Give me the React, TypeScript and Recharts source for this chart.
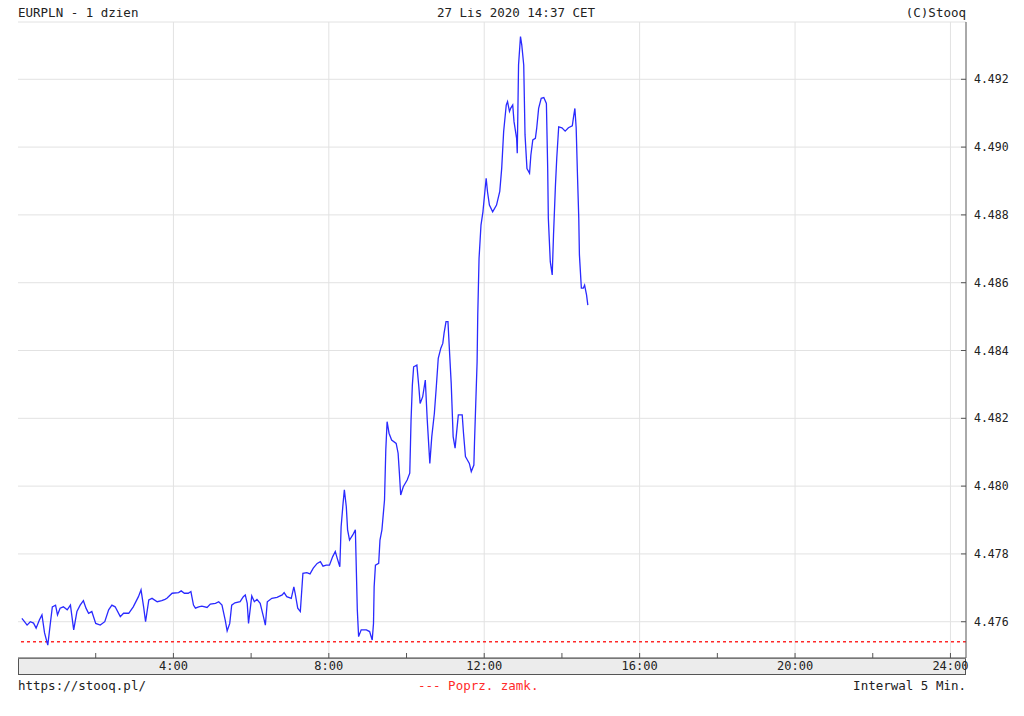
import { LineChart, Line, XAxis, YAxis, CartesianGrid, ReferenceLine } from "recharts";

// minutes since midnight (5-min bars, EURPLN 27.11.2020)
const minutes = [
  6, 10, 14, 19, 24, 28, 33, 37, 41, 46, 50, 53, 58, 61, 65, 70, 76, 81, 86, 91,
  96, 101, 105, 109, 114, 120, 127, 134, 140, 145, 150, 158, 163, 171, 178, 186, 190, 194, 197, 202,
  207, 215, 222, 227, 230, 238, 248, 252, 257, 263, 267, 271, 274, 279, 284, 292, 297, 305, 310, 315,
  320, 323, 327, 330, 335, 343, 348, 351, 354, 356, 359, 361, 365, 369, 374, 379, 382, 385, 392, 400,
  408, 411, 415, 422, 426, 428, 432, 436, 440, 446, 451, 456, 462, 467, 471, 476, 481, 486, 490, 493,
  497, 499, 502, 504, 507, 509, 512, 517, 521, 522, 524, 526, 530, 538, 543, 547, 549, 550, 552, 557,
  559, 562, 566, 568, 570, 573, 577, 584, 587, 589, 591, 595, 601, 605, 607, 609, 611, 616, 619, 621,
  625, 629, 632, 636, 639, 643, 646, 649, 653, 656, 658, 661, 664, 666, 669, 672, 675, 678, 680, 686,
  688, 691, 694, 697, 700, 704, 705, 707, 709, 710, 712, 715, 718, 721, 723, 725, 728, 733, 739, 744,
  747, 750, 754, 756, 759, 761, 764, 766, 770, 771, 773, 776, 778, 781, 783, 786, 790, 792, 795, 799,
  801, 804, 808, 812, 816, 818, 819, 822, 825, 827, 830, 832, 835, 840, 845, 850, 856, 858, 860, 862,
  864, 866, 867, 870, 873, 875, 878, 880,
];

const prices = [
  4.4761, 4.476, 4.4759, 4.476, 4.47596, 4.47581, 4.47605, 4.4762, 4.47567, 4.47531,
  4.47596, 4.47644, 4.47649, 4.4762, 4.4764, 4.47644, 4.47635, 4.47649, 4.47576, 4.4763,
  4.47649, 4.47662, 4.4764, 4.47625, 4.4763, 4.47595, 4.4759, 4.476, 4.47635, 4.47649,
  4.47644, 4.47615, 4.47625, 4.47625, 4.47644, 4.47674, 4.47694, 4.47644, 4.476, 4.47664,
  4.47669, 4.47659, 4.47662, 4.47666, 4.47669, 4.47684, 4.47686, 4.47691, 4.47684, 4.47684,
  4.47689, 4.47649, 4.4764, 4.47644, 4.47646, 4.47642, 4.47652, 4.47654, 4.47659, 4.47649,
  4.47605, 4.47573, 4.47595, 4.47649, 4.47656, 4.47659, 4.47674, 4.47679, 4.47654, 4.47595,
  4.47644, 4.47676, 4.47659, 4.47666, 4.47654, 4.47615, 4.4759, 4.47659, 4.47669, 4.47672,
  4.47679, 4.47686, 4.47674, 4.47669, 4.47703, 4.47684, 4.4764, 4.4763, 4.47743, 4.47745,
  4.47741, 4.47758, 4.47772, 4.47777, 4.47764, 4.47767, 4.47767, 4.47792, 4.47807, 4.47787,
  4.47762, 4.4788, 4.47949, 4.47989, 4.47939, 4.47871, 4.47841, 4.47856, 4.47871, 4.47792,
  4.47635, 4.47556, 4.47576, 4.47576, 4.47571, 4.47546, 4.47595, 4.47703, 4.47767, 4.47772,
  4.47841, 4.47871, 4.47959, 4.48107, 4.4819, 4.48156, 4.48136, 4.48126, 4.48097, 4.48038,
  4.47974, 4.47998, 4.48018, 4.48038, 4.48195, 4.48298, 4.48352, 4.48357, 4.48293, 4.48244,
  4.48264, 4.48313, 4.48195, 4.48067, 4.48146, 4.48215, 4.48293, 4.48377, 4.48407, 4.48421,
  4.48451, 4.48485, 4.48485, 4.48411, 4.48303, 4.48146, 4.48112, 4.48171, 4.4821, 4.4821,
  4.48156, 4.48087, 4.48077, 4.48067, 4.48043, 4.48062, 4.48131, 4.48249, 4.48367, 4.48505,
  4.48672, 4.4877, 4.48809, 4.48869, 4.48908, 4.48869, 4.48829, 4.48809, 4.48829, 4.48869,
  4.48938, 4.49046, 4.49124, 4.49134, 4.49105, 4.49115, 4.49124, 4.49075, 4.49026, 4.48982,
  4.49242, 4.49326, 4.49301, 4.49242, 4.49036, 4.48937, 4.48923, 4.48976, 4.49021, 4.49026,
  4.49055, 4.49114, 4.49144, 4.49146, 4.49129, 4.48937, 4.4879, 4.48662, 4.48623, 4.48741,
  4.48888, 4.48967, 4.4906, 4.49057, 4.49047, 4.49057, 4.49063, 4.4909, 4.49114, 4.49056,
  4.48918, 4.4879, 4.48682, 4.48584, 4.48584, 4.48593, 4.48564, 4.48534,
];

const prevClose = 4.47541;
const priceTicks = [4.476, 4.478, 4.48, 4.482, 4.484, 4.486, 4.488, 4.49, 4.492];
const hourTicks = [120, 240, 360, 480, 600, 720, 840, 960, 1080, 1200, 1320, 1440];
const gridHours = [240, 480, 720, 960, 1200, 1440];
const xDomain = [0, 1464];
const yDomain = [4.47493, 4.49369];

const title = "EURPLN - 1 dzien";
const stamp = "27 Lis 2020 14:37 CET";
const copy = "(C)Stooq";
const source = "https://stooq.pl/";
const legendLabel = "--- Poprz. zamk.";
const interval = "Interwal 5 Min.";

const data = minutes.map((m, i) => ({ m, price: prices[i] }));

const FONT = '"DejaVu Sans Mono", "Liberation Mono", monospace';
const AXIS = "#555";
const TEXT = "#222";

function HourTick(props: any) {
  const { x, y, payload } = props;
  const m = payload.value as number;
  return (
    <g>
      <line x1={x} x2={x} y1={y - 5} y2={y} stroke={AXIS} />
      {m % 240 === 0 && (
        <text x={x} y={y + 12} textAnchor="middle" fontSize={12} fontFamily={FONT} fill={TEXT}>
          {`${m / 60}:00`}
        </text>
      )}
    </g>
  );
}

function PriceTick(props: any) {
  const { x, y, payload } = props;
  return (
    <g>
      <line x1={x - 5} x2={x} y1={y} y2={y} stroke={AXIS} />
      <text x={x + 8} y={y + 4} fontSize={11.5} fontFamily={FONT} fill={TEXT}>
        {(payload.value as number).toFixed(3)}
      </text>
    </g>
  );
}

const noLabel = () => <g />;

function Label({ left, right, top, color, children }: any) {
  return (
    <div
      style={{
        position: "absolute", left, right, top, height: 16, lineHeight: "16px",
        fontFamily: FONT, fontSize: 12.5, color: color ?? TEXT, whiteSpace: "pre", zIndex: 2,
      }}
    >
      {children}
    </div>
  );
}

export default function App() {
  return (
    <div style={{ position: "relative", width: 1008, height: 700 }}>
      {/* gray strip under the time axis */}
      <div
        style={{
          position: "absolute", left: 10, top: 650, width: 948, height: 17,
          background: "#ececec", border: `1px solid ${AXIS}`, boxSizing: "border-box",
        }}
      />
      <div style={{ position: "absolute", left: 0, top: 0 }}>
        <LineChart width={1008} height={690} data={data} margin={{ top: 14, right: 5, left: 10, bottom: 24 }}>
          <CartesianGrid xAxisId="bottom" yAxisId="right" vertical={false} stroke="#e2e2e2" />
          {gridHours.map((h) => (
            <ReferenceLine key={h} x={h} xAxisId="bottom" yAxisId="right" stroke="#e2e2e2" />
          ))}
          <XAxis
            xAxisId="bottom" dataKey="m" type="number" domain={xDomain} allowDataOverflow
            ticks={hourTicks} interval={0} height={16} tickSize={0} tickMargin={0}
            tickLine={false} axisLine={{ stroke: AXIS }} tick={HourTick}
          />
          <XAxis
            xAxisId="top" orientation="top" type="number" domain={xDomain} allowDataOverflow
            ticks={hourTicks} interval={0} height={0} mirror tickSize={5}
            tickLine={{ stroke: AXIS }} axisLine={{ stroke: AXIS }} tick={noLabel}
          />
          <YAxis
            yAxisId="right" orientation="right" type="number" domain={yDomain} allowDataOverflow
            ticks={priceTicks} interval={0} width={45} tickSize={0} tickMargin={0}
            tickLine={false} axisLine={{ stroke: AXIS }} tick={PriceTick}
          />
          <YAxis
            yAxisId="left" orientation="left" type="number" domain={yDomain} allowDataOverflow
            ticks={priceTicks} interval={0} width={0} mirror tickSize={4}
            tickLine={{ stroke: AXIS }} axisLine={{ stroke: AXIS }} tick={noLabel}
          />
          <ReferenceLine
            y={prevClose} xAxisId="bottom" yAxisId="right"
            stroke="#ff2a2a" strokeWidth={1.4} strokeDasharray="3 3"
          />
          <Line
            xAxisId="bottom" yAxisId="right" dataKey="price" type="linear"
            stroke="#2a2aff" strokeWidth={1.3} dot={false} isAnimationActive={false}
          />
        </LineChart>
      </div>
      <Label left={10} top={-3}>{title}</Label>
      <Label left={429} top={-3}>{stamp}</Label>
      <Label right={50} top={-3}>{copy}</Label>
      <Label left={10} top={670}>{source}</Label>
      <Label left={410} top={670} color="#ff2a2a">{legendLabel}</Label>
      <Label right={50} top={670}>{interval}</Label>
    </div>
  );
}
